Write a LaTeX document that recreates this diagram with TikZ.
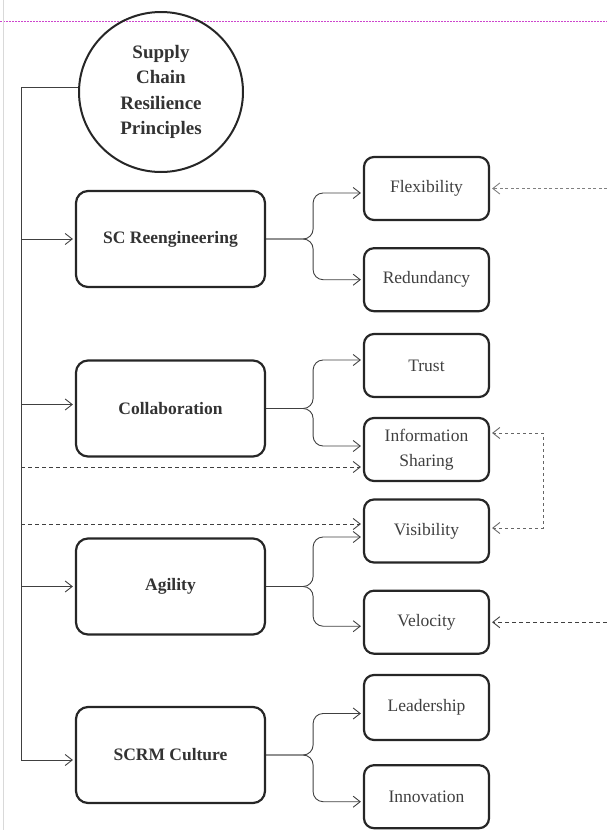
\documentclass[tikz,border=0pt]{standalone}
\usepackage{fontspec}
\setmainfont{Liberation Serif}
\usepackage{tikz}
\usetikzlibrary{positioning,arrows.meta,shapes.geometric}
\definecolor{rulepink}{RGB}{205,70,205}

\begin{document}
\begin{tikzpicture}[
        x=1pt, y=-1pt,
        principle/.style={draw=black!85, line width=2pt, ellipse, minimum width=164pt, minimum height=160pt, inner sep=0pt, align=center, text=black!80, font=\fontsize{19}{25.6}\selectfont\bfseries},
        pillar/.style={draw=black!85, line width=2.2pt, rounded corners=12pt, minimum width=189pt, minimum height=96pt, align=center, text=black!80, font=\fontsize{17.5}{24}\selectfont\bfseries},
        element/.style={draw=black!85, line width=2.2pt, rounded corners=10pt, minimum width=125pt, minimum height=63pt, align=center, text=black!75, font=\fontsize{17.5}{24.5}\selectfont},
        arrow/.style={-{Straight Barb[length=7pt,width=11pt]}, line width=0.9pt, draw=black!75, shorten >=2pt},
        branch/.style={arrow, rounded corners=10pt},
        link/.style={arrow, dash pattern=on 4pt off 3pt},
        twoway/.style={link, {Straight Barb[length=7pt,width=11pt]}-{Straight Barb[length=7pt,width=11pt]}, shorten <=2pt},
        node distance=26pt
    ]
    \useasboundingbox (0,0) rectangle (607,830);

    % page edges of the scan
    \draw[rulepink, line width=1pt, dash pattern=on 2pt off 1pt] (0,21) -- (607,21);
    \draw[black!15, line width=0.6pt] (3,0) -- (3,830);

    % principles
    \node[principle] (scrp) at (161,92) {Supply\\Chain\\Resilience\\Principles};

    % main pillars
    \node[pillar] (reeng) at (170.5,239) {SC Reengineering};
    \node[pillar] (collab) at (170.5,408.5) {Collaboration};
    \node[pillar] (agility) at (170.5,586.5) {Agility};
    \node[pillar] (culture) at (170.5,755) {SCRM Culture};

    % elements
    \node[element] (flex) at (426.5,188.5) {Flexibility};
    \node[element, below=of flex] (redund) {Redundancy};
    \node[element] (trust) at (426.5,365.5) {Trust};
    \node[element] (share) at (426.5,449.5) {Information\\Sharing};
    \node[element] (visib) at (426.5,531) {Visibility};
    \node[element, below=of visib] (veloc) {Velocity};
    \node[element, minimum height=65pt] (lead) at (426.5,707.5) {Leadership};
    \node[element, below=23pt of lead] (innov) {Innovation};

    % trunk on the left
    \coordinate (trunk) at (21,87);
    \coordinate (collabin) at ([yshift=4pt]collab.west);
    \draw[arrow] ([yshift=5pt]scrp.west) -- (trunk) |- ([yshift=-5pt]culture.west);
    \draw[arrow] (trunk |- reeng.west) -- (reeng.west);
    \draw[arrow] (trunk |- collabin) -- (collabin);
    \draw[arrow] (trunk |- agility.west) -- (agility.west);

    % dashed links from the trunk
    \coordinate (sharein) at ([yshift=-17.5pt]share.west);
    \coordinate (visibin) at ([yshift=7pt]visib.west);
    \draw[link] (trunk |- sharein) -- (sharein);
    \draw[link] (trunk |- visibin) -- (visibin);

    % branches
    \draw[branch] (reeng.east) -- ++(47,0) |- ([yshift=-4.5pt]flex.west);
    \draw[branch] (reeng.east) -- ++(47,0) |- (redund.west);
    \draw[branch] (collab.east) -- ++(47,0) |- ([yshift=5.5pt]trust.west);
    \draw[branch] (collab.east) -- ++(47,0) |- ([yshift=3.5pt]share.west);
    \draw[branch] (agility.east) -- ++(47,0) |- ([yshift=-6pt]visib.west);
    \draw[branch] (agility.east) -- ++(47,0) |- ([yshift=-4pt]veloc.west);
    \draw[branch] (culture.east) -- ++(47,0) |- ([yshift=-6pt]lead.west);
    \draw[branch] (culture.east) -- ++(47,0) |- ([yshift=-5pt]innov.west);

    % dashed links on the right
    \coordinate (edge) at (607,0);
    \draw[link, draw=black!50, dash pattern=on 3pt off 2.5pt] (edge |- flex.east) -- (flex.east);
    \draw[link] (edge |- veloc.east) -- (veloc.east);
    \draw[twoway, draw=black!60, dash pattern=on 3pt off 3pt] ([yshift=16.5pt]share.east) -- ++(53,0) |- ([yshift=3pt]visib.east);

\end{tikzpicture}
\end{document}
